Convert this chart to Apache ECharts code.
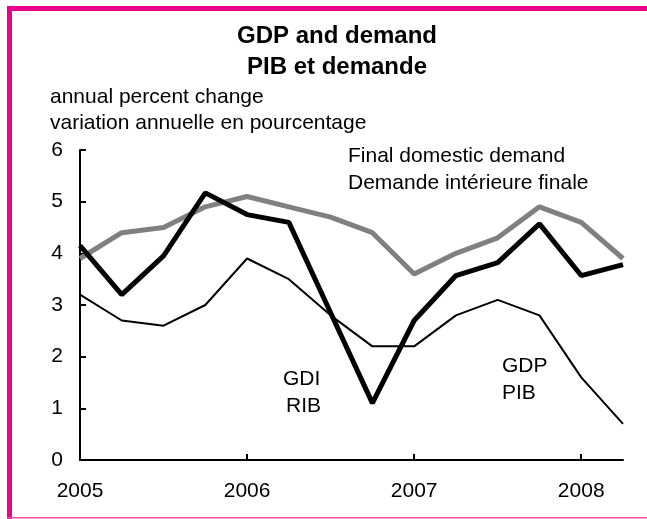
<!DOCTYPE html>
<html>
<head>
<meta charset="utf-8">
<script src="https://cdn.jsdelivr.net/npm/echarts@6/dist/echarts.min.js"></script>
<style>
  html, body { margin: 0; padding: 0; background: #fff; }
  #chart { width: 647px; height: 519px; }
</style>
</head>
<body>
<div id="chart"></div>
<script>
// quarterly, 2005Q1 .. 2008Q2
const quarters = ['2005Q1', '2005Q2', '2005Q3', '2005Q4', '2006Q1', '2006Q2', '2006Q3', '2006Q4',
    '2007Q1', '2007Q2', '2007Q3', '2007Q4', '2008Q1', '2008Q2'];
const demand = [3.9, 4.4, 4.5, 4.9, 5.1, 4.9, 4.7, 4.4, 3.6, 4.0, 4.3, 4.9, 4.6, 3.9];
const gdi = [4.15, 3.2, 3.95, 5.17, 4.75, 4.6, 2.85, 1.1, 2.7, 3.57, 3.82, 4.57, 3.57, 3.78];
const gdp = [3.2, 2.7, 2.6, 3.0, 3.9, 3.5, 2.8, 2.2, 2.2, 2.8, 3.1, 2.8, 1.6, 0.7];

const font = '"Liberation Sans", Arial, sans-serif';
const pink = '#ec008c';
const yearTick = (i) => i % 4 === 0;

const chart = echarts.init(document.getElementById('chart'));

// text placed by its left edge and vertical centre
function label(x, y, text, bold, align) {
    return {
        type: 'text', x: x, y: y,
        style: {
            text: text,
            font: (bold ? 'bold 24px ' : '21px ') + font,
            fill: '#000',
            align: align || 'left',
            verticalAlign: 'middle'
        }
    };
}

chart.setOption({
    animation: false,
    grid: { left: 80, right: 24, top: 150, bottom: 59 },
    xAxis: {
        type: 'category',
        data: quarters,
        boundaryGap: false,
        axisLine: { lineStyle: { color: '#000', width: 2 } },
        axisTick: { inside: true, length: 6, interval: yearTick, lineStyle: { color: '#000', width: 2 } },
        axisLabel: {
            interval: yearTick, margin: 21, color: '#000', fontSize: 21, fontFamily: font,
            formatter: (v) => v.slice(0, 4)
        },
        splitLine: { show: false }
    },
    yAxis: {
        type: 'value',
        min: 0, max: 6, interval: 1,
        axisLine: { show: true, lineStyle: { color: '#000', width: 2 } },
        axisTick: { show: true, inside: true, length: 6, lineStyle: { color: '#000', width: 2 } },
        axisLabel: { margin: 17, color: '#000', fontSize: 21, fontFamily: font },
        splitLine: { show: false }
    },
    series: [
        {
            name: 'Final domestic demand', type: 'line', data: demand, symbol: 'none',
            lineStyle: { color: '#808080', width: 5 }, z: 2
        },
        {
            name: 'GDI', type: 'line', data: gdi, symbol: 'none',
            lineStyle: { color: '#000', width: 5 }, z: 3
        },
        {
            name: 'GDP', type: 'line', data: gdp, symbol: 'none',
            lineStyle: { color: '#000', width: 2 }, z: 4
        }
    ],
    graphic: [
        { type: 'rect', shape: { x: 7, y: 6, width: 640, height: 5 }, style: { fill: pink } },
        { type: 'rect', shape: { x: 7, y: 6, width: 5, height: 513 }, style: { fill: pink } },
        { type: 'rect', shape: { x: 7, y: 517, width: 640, height: 1.5 }, style: { fill: '#f050a8' } },
        label(337, 36, 'GDP and demand', true, 'center'),
        label(337, 67, 'PIB et demande', true, 'center'),
        label(50, 97, 'annual percent change'),
        label(50, 123, 'variation annuelle en pourcentage'),
        label(348, 156, 'Final domestic demand'),
        label(348, 183, 'Demande intérieure finale'),
        label(283, 379, 'GDI'),
        label(286, 406, 'RIB'),
        label(502, 366, 'GDP'),
        label(502, 393, 'PIB')
    ]
});
</script>
</body>
</html>
